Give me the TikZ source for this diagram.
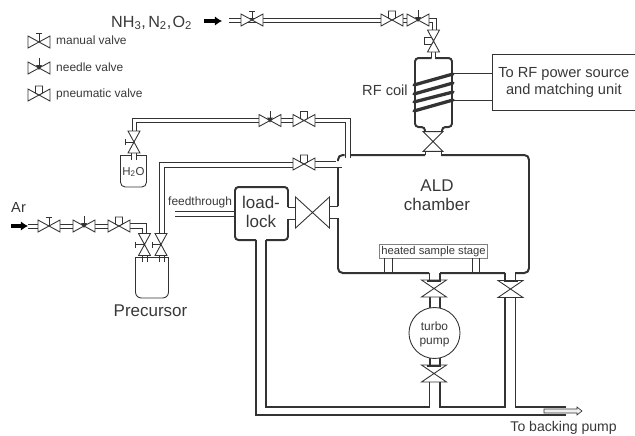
\documentclass[tikz,border=0pt]{standalone}
\usepackage{fontspec}
\setsansfont{Liberation Sans}
\usetikzlibrary{arrows.meta}
\definecolor{linecol}{HTML}{333333}
\definecolor{textcol}{HTML}{383838}
\newcommand{\valvebody}{\draw[pipe,fill=white] (-11,-6) -- (11,6) -- (11,-6) -- (-11,6) -- cycle;}
\tikzset{
    pipe/.style={line width=0.75pt,draw=linecol},
    duct/.style={line width=1pt,draw=linecol},
    wall/.style={line width=1.7pt,draw=linecol,rounded corners=4pt},
    label/.style={text=textcol,inner sep=0pt},
    small/.style={label,font=\sffamily\fontsize{10.2}{12}\selectfont},
    medium/.style={label,font=\sffamily\fontsize{12.5}{14.5}\selectfont,align=center},
    large/.style={label,font=\sffamily\fontsize{14.5}{16.5}\selectfont,align=center},
    flow/.style={line width=2.6pt,draw=black,-{Latex[length=6pt,width=8pt]}},
    plainvalve/.pic={\valvebody},
    gatevalve/.pic={
        \draw[pipe,fill=white] (-12.5,-8.5) -- (12.5,8.5) -- (-12.5,8.5) -- (12.5,-8.5) -- cycle;
        \draw[line width=1.6pt,draw=linecol] (-7,-7.5) -- (7,-7.5);},
    manualvalve/.pic={\valvebody \draw[pipe] (0,0) -- (0,-9) (-3,-9) -- (3,-9);},
    needlevalve/.pic={\valvebody \draw[pipe] (0,0) -- (0,-10);
        \fill[linecol] (-3,-3) -- (3,-3) -- (0,2) -- cycle;},
    pneumaticvalve/.pic={\valvebody
        \draw[pipe,fill=white] (-3.5,-2) -- (-3.5,-9) -- (3.5,-9) -- (3.5,-2) -- (0,0) -- cycle;}
}
\begin{document}
\begin{tikzpicture}[x=0.03cm,y=-0.03cm,font=\sffamily]
    \useasboundingbox (0,0) rectangle (635,435);
    % legend
    \pic at (39,42) {manualvalve};
    \pic at (39,68) {needlevalve};
    \pic at (39,95) {pneumaticvalve};
    \node[small,anchor=west] (legmanual) at (56,40) {manual valve};
    \node[small,anchor=west] (legneedle) at (56,67) {needle valve};
    \node[small,anchor=west] (legpneu) at (56,94) {pneumatic valve};
    % gas line
    \node[label,anchor=base west,font=\sffamily\fontsize{13.8}{16}\selectfont] (gases) at (111,27) {NH\textsubscript{3},\hspace{2pt}N\textsubscript{2},\hspace{1pt}O\textsubscript{2}};
    \draw[flow] (204,21) -- (222,21);
    \draw[pipe] (229,18.5) -- (381,18.5) (229,22.5) -- (381,22.5);
    \draw[pipe] (402,18.5) -- (408,18.5) (402,22.5) -- (408,22.5);
    \draw[pipe] (428,18) -- (436,18) -- (436,31) (428,22) -- (432,22) -- (432,31);
    \draw[pipe] (431.5,52) -- (431.5,58) (435,52) -- (435,58);
    \pic at (252,20) {manualvalve};
    \pic at (392,20) {pneumaticvalve};
    \pic at (418,20) {needlevalve};
    \pic[rotate=90] at (433.5,41) {pneumaticvalve};
    % RF coil
    \draw[wall,rounded corners=3pt] (431.5,58) -- (415,58) -- (415,127) -- (425,127) -- (425,132);
    \draw[wall,rounded corners=3pt] (435,58) -- (452,58) -- (452,127) -- (442,127) -- (442,132);
    \foreach \ya/\yb in {85/74,94/83,102/92,111/100}
        \draw[line width=2.8pt,draw=linecol,line cap=round] (414,\ya) -- (453,\yb);
    \node[medium,anchor=east] (rfcoil) at (408,90) {RF coil};
    \node[draw=linecol,line width=0.95pt,minimum width=142.5*0.03cm,minimum height=56*0.03cm,anchor=north west,medium] (rfbox) at (492,54) {To RF power source\\and matching unit};
    \draw[pipe] (453,73) -- (492,73) (453,100) -- (492,100);
    \draw[pipe] (425,151) -- (425,155) (441,151) -- (441,155);
    \pic[rotate=90,xscale=0.9,yscale=1.65] at (433,141.5) {plainvalve};
    % ALD chamber
    \draw[wall] (338,161) -- (338,155) -- (344.5,155) (350,155) -- (425,155) (441,155) -- (529,155) -- (529,273) -- (515,273)
        (505,273) -- (440,273) (429,273) -- (338,273) -- (338,218) (338,206) -- (338,167);
    \node[large] (ald) at (437,195) {ALD\\chamber};
    \node[draw=gray,line width=0.8pt,anchor=north west,minimum width=108*0.03cm,minimum height=14*0.03cm,small,inner sep=0pt,font=\sffamily\fontsize{9.6}{11}\selectfont] (stage) at (379,244) {heated sample stage};
    \draw[pipe] (384,258) -- (384,273) (392,258) -- (392,273) (472,258) -- (472,273) (479,258) -- (479,273);
    % water line
    \draw[pipe] (132,131) -- (132,118.5) -- (260,118.5) (136,131) -- (136,122.5) -- (260,122.5);
    \draw[pipe] (281,118.5) -- (294,118.5) (281,122.5) -- (294,122.5);
    \draw[pipe] (314,118.5) -- (350,118.5) -- (350,158) (314,122.5) -- (345,122.5) -- (345,158);
    \pic at (270,120.5) {needlevalve};
    \pic at (304,120.5) {pneumaticvalve};
    \pic[rotate=90] at (134,142) {manualvalve};
    \draw[pipe] (131.5,153) -- (131.5,160) (136.5,153) -- (136.5,160);
    \draw[pipe,rounded corners=4pt] (120.5,155) -- (120.5,187) -- (146.5,187) -- (146.5,155);
    \draw[pipe] (120.5,155) -- (131.5,155) (136.5,155) -- (146.5,155);
    \node[small,font=\sffamily\fontsize{9.8}{12}\selectfont] (water) at (133.5,172) {H\textsubscript{2}O};
    % precursor line
    \node[medium,anchor=base west] (argon) at (11,212) {Ar};
    \draw[flow] (11,226) -- (28,226);
    \draw[pipe] (28,224.5) -- (39,224.5) (28,228) -- (39,228);
    \draw[pipe] (60,224.5) -- (74,224.5) (60,228) -- (74,228);
    \draw[pipe] (95,224.5) -- (109,224.5) (95,228) -- (109,228);
    \draw[pipe] (130,223) -- (146,223) -- (146,234) (130,228) -- (142.5,228) -- (142.5,234);
    \pic at (49,226) {manualvalve};
    \pic at (84,226) {needlevalve};
    \pic at (119,226) {pneumaticvalve};
    \pic[rotate=90] at (144.5,244.5) {manualvalve};
    \pic[rotate=90] at (161,244.5) {manualvalve};
    \draw[pipe] (159,234) -- (159,162.5) -- (294,162.5) (164,234) -- (164,167) -- (294,167);
    \draw[pipe] (314,161.5) -- (336,161.5) (314,167) -- (342,167);
    \pic at (304,164) {pneumaticvalve};
    \draw[pipe,rounded corners=5pt] (135.5,257) -- (135.5,298) -- (168.5,298) -- (168.5,257);
    \draw[pipe] (135.5,257) -- (168.5,257);
    \draw[pipe] (142,255.5) -- (142,262) (147,255.5) -- (147,262) (159,255.5) -- (159,262) (164,255.5) -- (164,262);
    \node[large] (precursor) at (150.5,311) {Precursor};
    % load-lock
    \node[small,anchor=base west,font=\sffamily\fontsize{10.2}{12}\selectfont] (feed) at (168,205) {feedthrough};
    \draw[pipe] (175,211) -- (235,211) (175,216) -- (235,216);
    \draw[wall,rounded corners=3pt] (288,207) -- (288,187) -- (235,187) -- (235,240) -- (256,240) (266,240) -- (288,240) -- (288,219);
    \node[large] (loadlock) at (261,212) {load-\\lock};
    \draw[pipe] (288,207) -- (296,207) (288,219) -- (296,219) (330,206) -- (338,206) (330,218) -- (338,218);
    \pic[xscale=1.55,yscale=2.6] at (312.5,212.5) {plainvalve};
    % pumps
    \draw[duct] (429.5,273) -- (429.5,280) (440,273) -- (440,280) (505,273) -- (505,281) (515.5,273) -- (515.5,281);
    \draw[duct] (430,297) -- (430,311) (440,297) -- (440,311) (430,355) -- (430,365) (440,355) -- (440,365);
    \draw[pipe,fill=white] (434.5,333) circle (25.5);
    \node[small,align=center,font=\sffamily\fontsize{10.2}{12}\selectfont] (turbo) at (434.5,334) {turbo\\pump};
    \pic at (434,288.5) {gatevalve};
    \pic at (510.5,289) {gatevalve};
    \pic at (434,373.5) {gatevalve};
    \draw[duct] (256,240) -- (256,415) -- (566,415);
    \draw[duct] (266,240) -- (266,407) -- (429.5,407) -- (429.5,382) (440,382) -- (440,407) -- (505,407) -- (505,297) (515.5,297) -- (515.5,407) -- (566,407);
    \draw[line width=0.55pt,draw=linecol,fill=gray!12] (544,409) -- (577,409) -- (577,407) -- (582,411) -- (577,415) -- (577,413) -- (544,413) -- cycle;
    \node[label,anchor=base east,font=\sffamily\fontsize{12}{14}\selectfont] (backing) at (617,431) {To backing pump};
\end{tikzpicture}
\end{document}
